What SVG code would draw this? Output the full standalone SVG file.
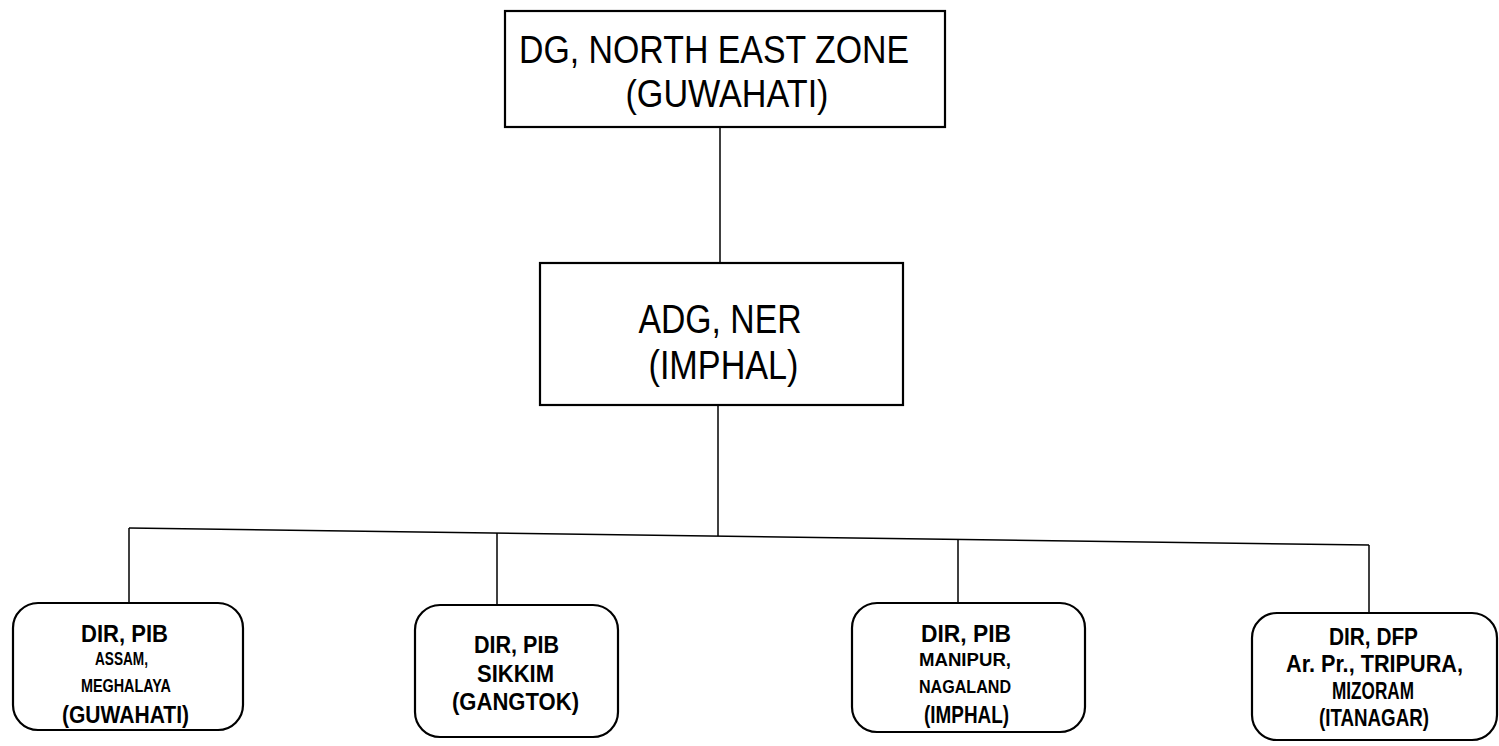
<svg xmlns="http://www.w3.org/2000/svg" width="1499" height="746" viewBox="0 0 1499 746">
<style>
.box{fill:#fff;stroke:#000;stroke-width:2.2}
.con{stroke:#000;stroke-width:1.5;fill:none}
text{font-family:"Liberation Sans",Arial,sans-serif;fill:#000;text-anchor:middle}
.big{font-size:39px}
.mid{font-size:40px}
.sm{font-size:24px;font-weight:bold}
.xs{font-size:19px;font-weight:bold}
</style>
<rect width="1499" height="746" fill="#fff"/>
<g id="connectors">
<line class="con" x1="720" y1="127" x2="720" y2="263"/>
<line class="con" x1="718" y1="405" x2="718" y2="536"/>
<line class="con" x1="129" y1="528" x2="1369" y2="545"/>
<line class="con" x1="129" y1="528" x2="129" y2="603"/>
<line class="con" x1="497" y1="533" x2="497" y2="605"/>
<line class="con" x1="958" y1="539.4" x2="958" y2="603"/>
<line class="con" x1="1369" y1="545" x2="1369" y2="613"/>
</g>
<g id="dg">
<rect class="box" x="505" y="11" width="440" height="116"/>
<text class="big"><tspan x="714" y="63" textLength="390" lengthAdjust="spacingAndGlyphs">DG, NORTH EAST ZONE</tspan><tspan x="727" y="107" textLength="203" lengthAdjust="spacingAndGlyphs">(GUWAHATI)</tspan></text>
</g>
<g id="adg">
<rect class="box" x="540" y="263" width="363" height="142"/>
<text class="mid"><tspan x="720" y="333" textLength="163" lengthAdjust="spacingAndGlyphs">ADG, NER</tspan><tspan x="723.5" y="379" textLength="150" lengthAdjust="spacingAndGlyphs">(IMPHAL)</tspan></text>
</g>
<g id="dir-assam">
<rect class="box" x="13" y="603" width="230" height="127" rx="25"/>
<text><tspan class="sm" x="124.5" y="642" textLength="87" lengthAdjust="spacingAndGlyphs">DIR, PIB</tspan><tspan class="xs" x="121.5" y="665" textLength="53" lengthAdjust="spacingAndGlyphs">ASSAM,</tspan><tspan class="xs" x="126" y="692" textLength="90" lengthAdjust="spacingAndGlyphs">MEGHALAYA</tspan><tspan class="sm" x="125.5" y="723" textLength="127" lengthAdjust="spacingAndGlyphs">(GUWAHATI)</tspan></text>
</g>
<g id="dir-sikkim">
<rect class="box" x="415" y="605" width="203" height="132" rx="25"/>
<text class="sm"><tspan x="516.5" y="653" textLength="85" lengthAdjust="spacingAndGlyphs">DIR, PIB</tspan><tspan x="515.5" y="682" textLength="77" lengthAdjust="spacingAndGlyphs">SIKKIM</tspan><tspan x="515.5" y="710" textLength="127" lengthAdjust="spacingAndGlyphs">(GANGTOK)</tspan></text>
</g>
<g id="dir-manipur">
<rect class="box" x="852" y="603" width="233" height="129" rx="25"/>
<text><tspan class="sm" x="966" y="642" textLength="90" lengthAdjust="spacingAndGlyphs">DIR, PIB</tspan><tspan class="xs" x="965" y="666" textLength="92" lengthAdjust="spacingAndGlyphs">MANIPUR,</tspan><tspan class="xs" x="965" y="693" textLength="92" lengthAdjust="spacingAndGlyphs">NAGALAND</tspan><tspan class="sm" x="966.5" y="723" textLength="85" lengthAdjust="spacingAndGlyphs">(IMPHAL)</tspan></text>
</g>
<g id="dir-dfp">
<rect class="box" x="1252" y="613" width="245" height="127" rx="25"/>
<text class="sm"><tspan x="1373.5" y="645" textLength="89" lengthAdjust="spacingAndGlyphs">DIR, DFP</tspan><tspan x="1374.5" y="672" textLength="177" lengthAdjust="spacingAndGlyphs">Ar. Pr., TRIPURA,</tspan><tspan x="1373" y="699" textLength="82" lengthAdjust="spacingAndGlyphs">MIZORAM</tspan><tspan x="1374" y="726" textLength="110" lengthAdjust="spacingAndGlyphs">(ITANAGAR)</tspan></text>
</g>
</svg>
